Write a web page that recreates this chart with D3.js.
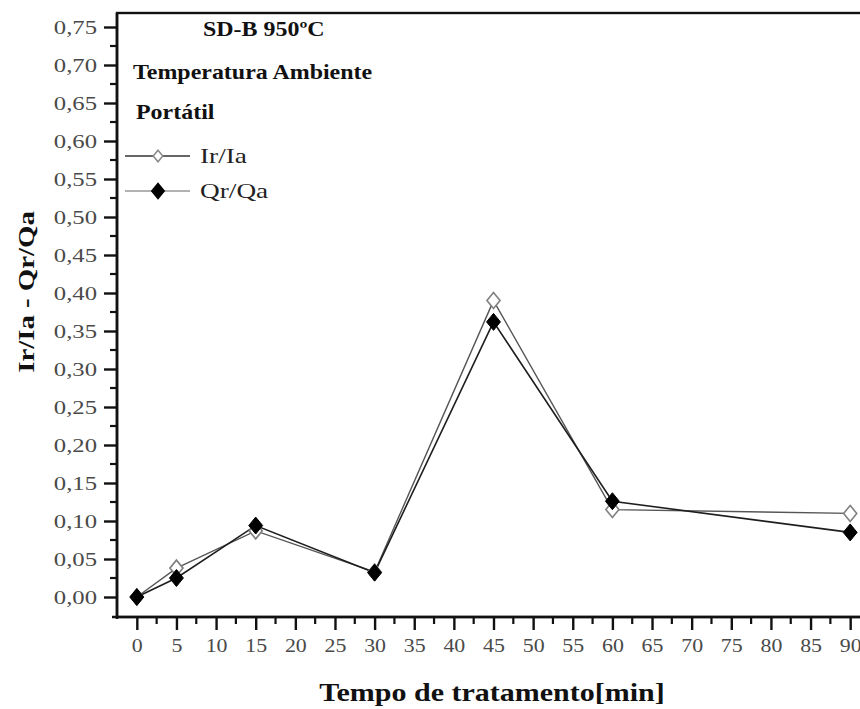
<!DOCTYPE html>
<html>
<head>
<meta charset="utf-8">
<script src="https://cdn.jsdelivr.net/npm/d3@7"></script>
<style>
  html, body { margin: 0; padding: 0; background: #fff; }
  svg { display: block; }
  svg text { font-family: "Liberation Serif", "Times New Roman", serif; }
</style>
</head>
<body>
<svg id="chart" width="860" height="709"></svg>
<script>
// Treatment time (min) and measured ratios
const tempos = [0, 5, 15, 30, 45, 60, 90];
const irIa = [0.000, 0.038, 0.087, 0.033, 0.390, 0.115, 0.110];
const qrQa = [0.000, 0.025, 0.094, 0.032, 0.362, 0.126, 0.085];

const xTicks = d3.range(0, 91, 5);
const yTicks = d3.range(0, 0.751, 0.05);

const svg = d3.select("#chart");

// plot frame
const plotLeft = 117, plotTop = 13, plotBottom = 617, plotRight = 870;

const x = d3.scaleLinear().domain([-2.5, 92.5]).range([plotLeft, plotRight]);
const y = d3.scaleLinear().domain([0, 0.75]).range([597, 27]);

const fmt = v => d3.format(".2f")(v).replace(".", ",");

// widen text horizontally by factor k (the typeface is set wide)
function widen(sel, k) {
  sel.each(function () {
    const w = this.getComputedTextLength();
    d3.select(this).attr("textLength", w * k).attr("lengthAdjust", "spacingAndGlyphs");
  });
}

// diamond slightly taller than wide
function diamondType(ratio) {
  return {
    draw(ctx, size) {
      const hh = Math.sqrt(size / (2 * ratio));
      const hw = hh * ratio;
      ctx.moveTo(0, -hh); ctx.lineTo(hw, 0); ctx.lineTo(0, hh); ctx.lineTo(-hw, 0); ctx.closePath();
    }
  };
}
const dmd = diamondType(0.82);

// frame (right side lies beyond the page)
svg.append("rect")
  .attr("x", plotLeft).attr("y", plotTop)
  .attr("width", plotRight - plotLeft).attr("height", plotBottom - plotTop)
  .attr("fill", "none").attr("stroke", "#111").attr("stroke-width", 2.4);

// Y axis
const yAxis = d3.axisLeft(y).tickValues(yTicks).tickFormat(fmt).tickSize(13).tickPadding(7);
const gy = svg.append("g").attr("transform", `translate(${plotLeft},0)`).call(yAxis);
gy.attr("font-family", null).attr("font-size", null);
gy.select(".domain").remove();
gy.selectAll(".tick line").attr("stroke", "#111").attr("stroke-width", 2.4);
gy.selectAll(".tick text")
  .style("font-family", "'Liberation Serif', serif")
  .style("font-size", "19px").attr("fill", "#4a4a4a");
widen(gy.selectAll(".tick text"), 1.3);

// Y minor ticks
const yMinor = d3.range(0.025, 0.76, 0.05);
svg.append("g").selectAll("line").data(yMinor).join("line")
  .attr("x1", plotLeft - 7).attr("x2", plotLeft)
  .attr("y1", d => y(d)).attr("y2", d => y(d))
  .attr("stroke", "#111").attr("stroke-width", 2.2);

// X axis
const xAxis = d3.axisBottom(x).tickValues(xTicks).tickFormat(d3.format("d")).tickSize(13).tickPadding(9);
const gx = svg.append("g").attr("transform", `translate(0,${plotBottom})`).call(xAxis);
gx.attr("font-family", null).attr("font-size", null);
gx.select(".domain").remove();
gx.selectAll(".tick line").attr("stroke", "#111").attr("stroke-width", 2.4);
gx.selectAll(".tick text")
  .style("font-family", "'Liberation Serif', serif")
  .style("font-size", "19px").attr("fill", "#4a4a4a");
widen(gx.selectAll(".tick text"), 1.15);

// X minor ticks
const xMinor = d3.range(2.5, 92, 5);
svg.append("g").selectAll("line").data(xMinor).join("line")
  .attr("x1", d => x(d)).attr("x2", d => x(d))
  .attr("y1", plotBottom).attr("y2", plotBottom + 7)
  .attr("stroke", "#111").attr("stroke-width", 2.2);

// axis lines drawn slightly past the corner
svg.append("line").attr("x1", plotLeft - 5).attr("x2", plotRight)
  .attr("y1", plotBottom).attr("y2", plotBottom)
  .attr("stroke", "#111").attr("stroke-width", 2.6);
svg.append("line").attr("x1", plotLeft).attr("x2", plotLeft)
  .attr("y1", plotTop).attr("y2", plotBottom + 2)
  .attr("stroke", "#111").attr("stroke-width", 2.6);

// axis titles
const xTitle = svg.append("text")
  .attr("x", 492).attr("y", 701)
  .attr("text-anchor", "middle")
  .style("font-size", "25px").attr("font-weight", "bold").attr("fill", "#111")
  .text("Tempo de tratamento[min]");
widen(xTitle, 1.2);

const yTitle = svg.append("text")
  .attr("transform", "translate(34,292) rotate(-90)")
  .attr("text-anchor", "middle")
  .style("font-size", "24px").attr("font-weight", "bold").attr("fill", "#111")
  .text("Ir/Ia - Qr/Qa");
widen(yTitle, 1.2);

// series
const rows = tempos.map((t, i) => ({ t, ir: irIa[i], qr: qrQa[i] }));

const lineIr = d3.line().x(d => x(d.t)).y(d => y(d.ir));
const lineQr = d3.line().x(d => x(d.t)).y(d => y(d.qr));

svg.append("path").datum(rows).attr("d", lineIr)
  .attr("fill", "none").attr("stroke", "#555").attr("stroke-width", 1.4);
svg.append("path").datum(rows).attr("d", lineQr)
  .attr("fill", "none").attr("stroke", "#1e1e1e").attr("stroke-width", 1.6);

svg.append("g").selectAll("path").data(rows).join("path")
  .attr("transform", d => `translate(${x(d.t)},${y(d.ir)})`)
  .attr("d", d3.symbol().type(dmd).size(105)())
  .attr("fill", "#fff").attr("stroke", "#808080").attr("stroke-width", 1.6);

svg.append("g").selectAll("path").data(rows).join("path")
  .attr("transform", d => `translate(${x(d.t)},${y(d.qr)})`)
  .attr("d", d3.symbol().type(dmd).size(118)())
  .attr("fill", "#000").attr("stroke", "#000").attr("stroke-width", 1);

// annotations
const notes = [
  { text: "SD-B 950ºC", x: 203, y: 36 },
  { text: "Temperatura Ambiente", x: 133, y: 79 },
  { text: "Portátil", x: 136, y: 119 }
];
const noteText = svg.append("g").selectAll("text").data(notes).join("text")
  .attr("x", d => d.x).attr("y", d => d.y)
  .style("font-size", "21px").attr("font-weight", "bold").attr("fill", "#111")
  .text(d => d.text);
widen(noteText, 1.14);

// legend
const legend = [
  { label: "Ir/Ia", fill: "#fff", stroke: "#888", line: "#333", y: 156, size: 55 },
  { label: "Qr/Qa", fill: "#000", stroke: "#000", line: "#999", y: 191, size: 95 }
];
const lg = svg.append("g").selectAll("g").data(legend).join("g")
  .attr("transform", d => `translate(0,${d.y})`);
lg.append("line").attr("x1", 125).attr("x2", 190).attr("y1", 0).attr("y2", 0)
  .attr("stroke", d => d.line).attr("stroke-width", 1.4);
lg.append("path").attr("transform", "translate(158,0)")
  .attr("d", d => d3.symbol().type(dmd).size(d.size)())
  .attr("fill", d => d.fill).attr("stroke", d => d.stroke).attr("stroke-width", 1.5);
const lgText = lg.append("text").attr("x", 200).attr("y", 7)
  .style("font-size", "21px").attr("fill", "#222")
  .text(d => d.label);
widen(lgText, 1.3);
</script>
</body>
</html>
